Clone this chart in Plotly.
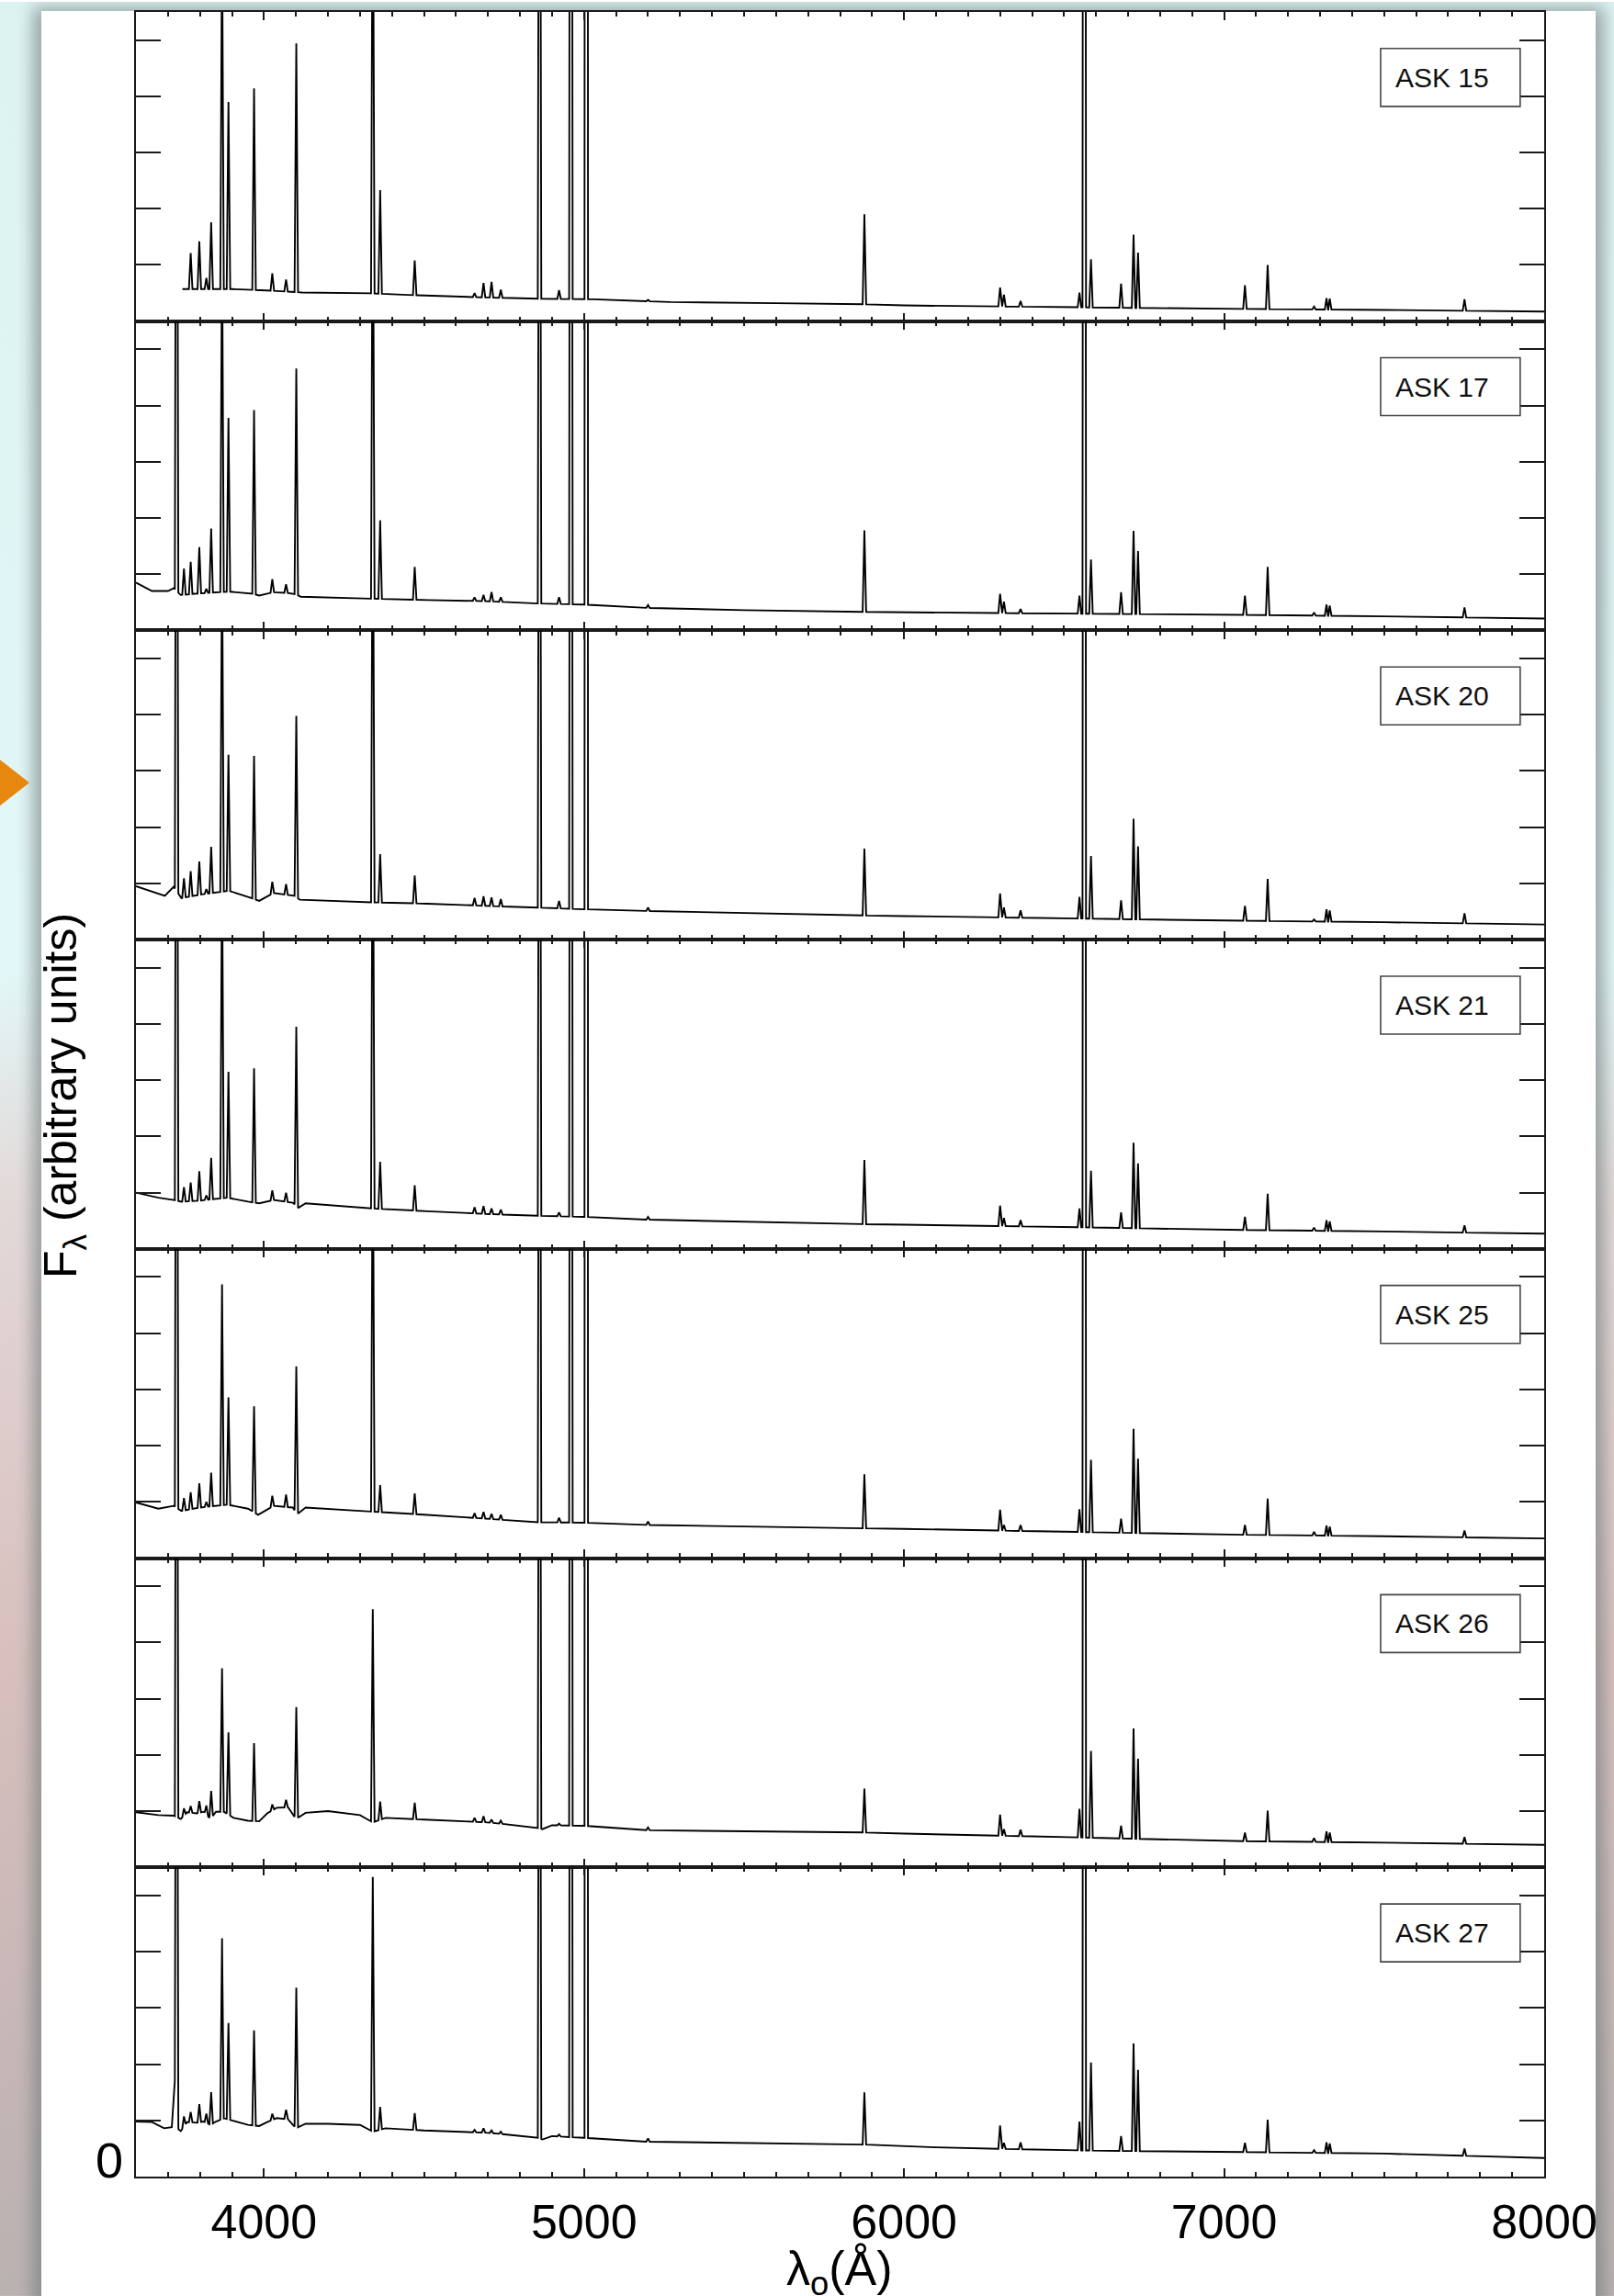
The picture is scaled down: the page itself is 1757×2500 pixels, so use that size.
import base64
import numpy as np
import plotly.graph_objects as go
from plotly.subplots import make_subplots

# ---------------------------------------------------------------- data
PANEL_NAMES = ["ASK 15", "ASK 17", "ASK 20", "ASK 21", "ASK 25", "ASK 26", "ASK 27"]

# rest wavelengths (Angstrom) of the emission lines drawn in every panel
LINE_WAVE = [3727, 3750, 3771, 3798, 3820, 3835, 3869, 3889, 3969, 4026, 4069, 4101,
             4340, 4363, 4471, 4658, 4686, 4711, 4740, 4861, 4922, 4959, 5007, 5200,
             5876, 6300, 6312, 6364, 6548, 6563, 6584, 6678, 6717, 6731, 7065, 7136,
             7281, 7320, 7330, 7751]

NA = float("nan")

# ASK 15
cont_w_15 = [3745, 3800, 3900, 4000, 4120, 4320, 4480, 4650, 4850, 5030, 5270, 5600, 5876, 6000, 6500, 7000, 7500, 8000]
cont_f_15 = [0.57, 0.57, 0.57, 0.55, 0.51, 0.50, 0.46, 0.43, 0.40, 0.39, 0.34, 0.32, 0.30, 0.28, 0.25, 0.22, 0.20, 0.17]
peak_15 = [NA, 1.03, 1.21, 1.42, 0.77, 1.76, 7.0, 3.90, 4.14, 0.85, 0.74, 4.94,
           9.0, 2.33, 1.08, 0.50, 0.68, 0.70, 0.56, 16.0, 0.55, 30.0, 80.0, 0.38,
           1.90, 0.60, 0.47, 0.36, 0.51, 45.0, 1.10, 0.67, 1.54, 1.22, 0.64, 1.00,
           0.26, 0.41, 0.40, 0.39]

# ASK 17
cont_w_17 = [3600, 3650, 3700, 3718, 3740, 3800, 3890, 3960, 3985, 4030, 4090, 4115, 4300, 4510, 4700, 4850, 5000, 5200, 5500, 5876, 6000, 6500, 7000, 7500, 8000]
cont_f_17 = [0.85, 0.70, 0.70, 0.75, 0.63, 0.66, 0.69, 0.66, 0.62, 0.68, 0.66, 0.60, 0.57, 0.54, 0.52, 0.48, 0.46, 0.40, 0.36, 0.33, 0.32, 0.30, 0.28, 0.25, 0.21]
peak_17 = [15.0, 1.10, 1.22, 1.48, 0.74, 1.81, 7.0, 3.78, 3.92, 0.91, 0.82, 4.66,
           9.0, 1.96, 1.13, 0.59, 0.63, 0.68, 0.59, 16.0, 0.59, 30.0, 80.0, 0.45,
           1.78, 0.65, 0.51, 0.38, 0.62, 45.0, 1.26, 0.68, 1.77, 1.41, 0.62, 1.13,
           0.32, 0.46, 0.44, 0.41]

# ASK 20
cont_w_20 = [3600, 3650, 3690, 3718, 3742, 3800, 3890, 3950, 3985, 4030, 4095, 4112, 4300, 4510, 4700, 4850, 5000, 5200, 5500, 5876, 6000, 6500, 7000, 7500, 8000]
cont_f_20 = [0.95, 0.85, 0.78, 0.94, 0.74, 0.80, 0.87, 0.76, 0.69, 0.83, 0.78, 0.71, 0.67, 0.64, 0.60, 0.57, 0.54, 0.51, 0.47, 0.43, 0.42, 0.38, 0.34, 0.31, 0.27]
peak_20 = [15.0, 1.09, 1.22, 1.39, 0.90, 1.65, 7.0, 3.29, 3.27, 1.03, 0.99, 3.98,
           9.0, 1.52, 1.14, 0.74, 0.77, 0.75, 0.72, 16.0, 0.69, 30.0, 80.0, 0.57,
           1.62, 0.82, 0.57, 0.52, 0.76, 45.0, 1.49, 0.70, 2.15, 1.66, 0.60, 1.08,
           0.36, 0.54, 0.52, 0.47]

# ASK 21
cont_w_21 = [3600, 3670, 3718, 3742, 3800, 3886, 3950, 3985, 4030, 4090, 4108, 4130, 4300, 4510, 4700, 4850, 5000, 5200, 5500, 5876, 6000, 6500, 7000, 7500, 8000]
cont_f_21 = [1.00, 0.91, 0.87, 0.84, 0.86, 0.91, 0.84, 0.81, 0.87, 0.82, 0.73, 0.81, 0.73, 0.67, 0.62, 0.59, 0.57, 0.52, 0.48, 0.44, 0.43, 0.39, 0.34, 0.31, 0.27]
peak_21 = [15.0, 1.10, 1.18, 1.38, 0.95, 1.62, 7.0, 3.15, 3.21, 1.04, 1.00, 3.95,
           9.0, 1.55, 1.13, 0.74, 0.76, 0.72, 0.70, 16.0, 0.65, 30.0, 80.0, 0.57,
           1.58, 0.77, 0.55, 0.51, 0.72, 45.0, 1.39, 0.65, 1.89, 1.52, 0.57, 0.98,
           0.38, 0.51, 0.49, 0.42]

# ASK 25
cont_w_25 = [3600, 3670, 3718, 3742, 3800, 3886, 3950, 3982, 4030, 4090, 4104, 4130, 4300, 4510, 4700, 4850, 5000, 5200, 5500, 5876, 6000, 6500, 7000, 7500, 8000]
cont_f_25 = [0.99, 0.88, 0.93, 0.84, 0.90, 0.95, 0.88, 0.77, 0.93, 0.90, 0.78, 0.90, 0.84, 0.77, 0.70, 0.64, 0.63, 0.59, 0.56, 0.53, 0.52, 0.47, 0.42, 0.39, 0.35]
peak_25 = [15.0, 1.07, 1.17, 1.33, 1.00, 1.52, 4.87, 2.86, 2.70, 1.11, 1.13, 3.41,
           8.0, 1.30, 1.15, 0.80, 0.82, 0.79, 0.77, 16.0, 0.72, 30.0, 80.0, 0.65,
           1.49, 0.86, 0.59, 0.59, 0.87, 45.0, 1.75, 0.70, 2.30, 1.77, 0.59, 1.06,
           0.47, 0.58, 0.56, 0.49]

# ASK 26
cont_w_26 = [3600, 3670, 3718, 3740, 3760, 3790, 3812, 3833, 3850, 3875, 3905, 3950, 3985, 4010, 4040, 4075, 4100, 4130, 4200, 4300, 4340, 4380, 4500, 4700, 4850, 4870, 4900, 5000, 5200, 5500, 5876, 6000, 6500, 7000, 7500, 8000]
cont_f_26 = [0.98, 0.93, 0.92, 0.86, 0.98, 0.96, 0.99, 0.86, 0.99, 0.99, 0.88, 0.83, 0.82, 0.96, 1.06, 1.07, 0.86, 0.97, 1.00, 0.93, 0.80, 0.88, 0.85, 0.80, 0.71, 0.68, 0.75, 0.74, 0.66, 0.64, 0.62, 0.60, 0.54, 0.47, 0.44, 0.40]
peak_26 = [15.0, 1.05, 1.09, 1.18, 1.10, 1.36, 3.54, 2.40, 2.21, 1.12, 1.20, 2.85,
           4.59, 1.17, 1.15, 0.88, 0.91, 0.85, 0.83, 16.0, 0.78, 30.0, 80.0, 0.71,
           1.40, 0.94, 0.68, 0.67, 1.04, 45.0, 2.07, 0.74, 2.47, 1.93, 0.62, 1.01,
           0.52, 0.64, 0.62, 0.54]

# ASK 27
cont_w_27 = [3600, 3650, 3688, 3712, 3722, 3733, 3740, 3760, 3790, 3812, 3833, 3850, 3875, 3905, 3950, 3985, 4010, 4040, 4075, 4100, 4130, 4200, 4300, 4340, 4380, 4500, 4700, 4850, 4870, 4900, 5000, 5200, 5500, 5876, 6100, 6500, 6800, 7000, 7500, 8000]
cont_f_27 = [0.98, 0.97, 0.86, 0.88, 1.75, 0.84, 0.81, 0.97, 0.96, 0.98, 0.92, 0.98, 1.04, 0.99, 0.92, 0.90, 0.97, 1.04, 1.02, 0.86, 0.94, 0.94, 0.92, 0.80, 0.86, 0.82, 0.78, 0.70, 0.66, 0.72, 0.69, 0.62, 0.60, 0.57, 0.52, 0.47, 0.45, 0.44, 0.41, 0.33]
peak_27 = [15.0, 1.07, 1.15, 1.29, 1.12, 1.50, 4.24, 2.73, 2.60, 1.12, 1.19, 3.36,
           5.33, 1.24, 1.13, 0.83, 0.86, 0.82, 0.80, 16.0, 0.75, 30.0, 80.0, 0.68,
           1.50, 0.91, 0.60, 0.61, 0.98, 45.0, 2.03, 0.72, 2.37, 1.90, 0.60, 1.01,
           0.47, 0.61, 0.59, 0.50]

CONT_W = [cont_w_15, cont_w_17, cont_w_20, cont_w_21, cont_w_25, cont_w_26, cont_w_27]
CONT_F = [cont_f_15, cont_f_17, cont_f_20, cont_f_21, cont_f_25, cont_f_26, cont_f_27]
PEAKS = [peak_15, peak_17, peak_20, peak_21, peak_25, peak_26, peak_27]

X_TICKS = [4000, 5000, 6000, 7000, 8000]
Y_TICKS = [0, 1, 2, 3, 4, 5]

# ---------------------------------------------------------------- styling
FONT = "Liberation Sans, Arial, Helvetica, sans-serif"
INK = "#1a1a1a"
HALF = 5.5            # half base width of an emission spike, in Angstrom
X_RANGE = [3600, 8000]
Y_RANGE = [0, 5.5]
W, H = 1757, 2500
L, R, T, B = 148, 76, 11, 130
PW, PH = W - L - R, H - T - B


def px_to_paper(px, py):
    return (px - L) / PW, (H - B - py) / PH


def spectrum(cw, cf, peaks):
    """Continuum polyline with a triangular spike for each emission line."""
    cw = np.asarray(cw, float)
    cf = np.asarray(cf, float)
    lw = np.asarray(LINE_WAVE, float)
    lp = np.asarray(peaks, float)
    keep = ~np.isnan(lp) & (lw - HALF >= cw[0]) & (lw + HALF <= cw[-1])
    lw, lp = lw[keep], lp[keep]
    pts = [(w, f) for w, f in zip(cw, cf) if not np.any(np.abs(w - lw) < HALF)]
    for w, p in zip(lw, lp):
        pts.append((w - HALF, float(np.interp(w - HALF, cw, cf))))
        pts.append((w, p))
        pts.append((w + HALF, float(np.interp(w + HALF, cw, cf))))
    pts.sort(key=lambda t: t[0])
    return [p[0] for p in pts], [p[1] for p in pts]


n = len(PANEL_NAMES)
fig = make_subplots(rows=n, cols=1, shared_xaxes=True, vertical_spacing=0)

for i in range(n):
    x, y = spectrum(CONT_W[i], CONT_F[i], PEAKS[i])
    fig.add_trace(go.Scatter(x=x, y=y, mode="lines",
                             line=dict(color="#000000", width=1.9),
                             hoverinfo="skip", showlegend=False),
                  row=i + 1, col=1)

    yref = "y" if i == 0 else f"y{i + 1}"
    xref = "x" if i == 0 else f"x{i + 1}"
    # label box in the upper right of each panel
    fig.add_shape(type="rect", xref=xref, yref=yref,
                  x0=7489, x1=7925, y0=3.82, y1=4.85,
                  line=dict(color="#444444", width=1.6), fillcolor="rgba(0,0,0,0)")
    fig.add_annotation(xref=xref, yref=yref, x=7529, y=4.335,
                       xanchor="left", yanchor="middle", showarrow=False,
                       text=PANEL_NAMES[i],
                       font=dict(family=FONT, size=30, color="#111111"))

axis_common = dict(showgrid=False, zeroline=False, showline=True,
                   linecolor=INK, linewidth=2.2, mirror="ticks",
                   ticks="inside", tickcolor=INK, tickwidth=2)

for i in range(n):
    bottom = (i == n - 1)
    fig.update_xaxes(row=i + 1, col=1, range=X_RANGE,
                     tickvals=X_TICKS, ticklen=9,
                     minor=dict(dtick=100, tick0=3600, ticklen=5, tickwidth=2,
                                tickcolor=INK, ticks="inside"),
                     showticklabels=bottom,
                     tickfont=dict(family=FONT, size=52, color="#000000"),
                     ticklabelstandoff=2,
                     **axis_common)
    fig.update_yaxes(row=i + 1, col=1, range=Y_RANGE, tickvals=Y_TICKS,
                     ticklen=27, showticklabels=False, **axis_common)

# axis titles and the lone zero label
ax, ay = px_to_paper(70, 1192)
fig.add_annotation(xref="paper", yref="paper", x=ax, y=ay, textangle=-90,
                   xanchor="center", yanchor="middle", showarrow=False,
                   text="F<sub>λ</sub> (arbitrary units)",
                   font=dict(family=FONT, size=50, color="#000000"))
tx, ty = px_to_paper(914, 2474)
fig.add_annotation(xref="paper", yref="paper", x=tx, y=ty,
                   xanchor="center", yanchor="middle", showarrow=False,
                   text="λ<sub>o</sub>(Å)",
                   font=dict(family=FONT, size=52, color="#000000"))
zx, zy = px_to_paper(119, 2352)
fig.add_annotation(xref="paper", yref="paper", x=zx, y=zy,
                   xanchor="center", yanchor="middle", showarrow=False,
                   text="0", font=dict(family=FONT, size=54, color="#000000"))

# page backdrop: tinted surround, white sheet with soft shadow, orange pointer
backdrop = f"""<svg xmlns="http://www.w3.org/2000/svg" width="{W}" height="{H}" viewBox="0 0 {W} {H}">
<defs>
<linearGradient id="bg" x1="0" y1="0" x2="0" y2="1">
<stop offset="0" stop-color="#dcf3f1"/>
<stop offset="0.42" stop-color="#e2f8f8"/>
<stop offset="0.52" stop-color="#e3d9d9"/>
<stop offset="0.72" stop-color="#d8c0be"/>
<stop offset="1" stop-color="#bab1b1"/>
</linearGradient>
<filter id="sh" x="-5%" y="-5%" width="110%" height="110%"><feGaussianBlur stdDeviation="9"/></filter>
</defs>
<rect width="{W}" height="{H}" fill="url(#bg)"/>
<rect x="36" y="6" width="1710" height="2530" fill="#6f7c7c" opacity="0.65" filter="url(#sh)"/>
<rect x="45" y="10" width="1692" height="2500" fill="#ffffff"/>
<polygon points="0,826 32,851 0,876" fill="#e8870f"/>
</svg>"""
src = "data:image/svg+xml;base64," + base64.b64encode(backdrop.encode()).decode()
ix, iy = px_to_paper(0, 0)
fig.add_layout_image(source=src, xref="paper", yref="paper", x=ix, y=iy,
                     sizex=W / PW, sizey=H / PH, xanchor="left", yanchor="top",
                     sizing="stretch", layer="below")

fig.update_layout(width=W, height=H,
                  margin=dict(l=L, r=R, t=T, b=B, pad=0),
                  paper_bgcolor="#ffffff", plot_bgcolor="rgba(0,0,0,0)",
                  font=dict(family=FONT, color="#000000"),
                  showlegend=False)

fig.write_html("out.html")
